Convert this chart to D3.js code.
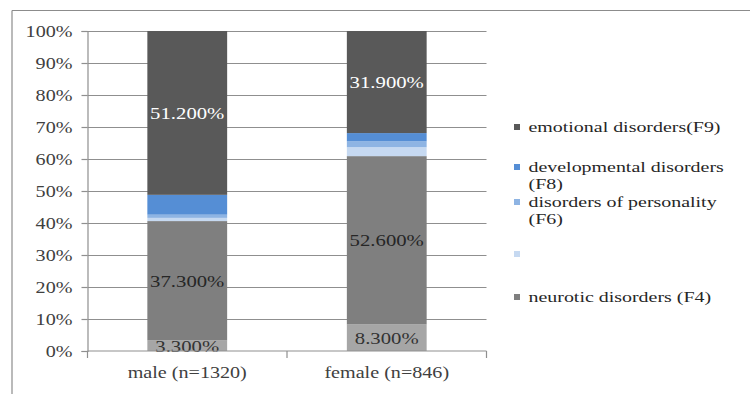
<!DOCTYPE html>
<html>
<head>
<meta charset="utf-8">
<script src="https://cdn.jsdelivr.net/npm/d3@7"></script>
<style>
  html, body { margin: 0; padding: 0; background: #fff; }
  svg { display: block; }
</style>
</head>
<body>
<svg id="chart" width="750" height="394"></svg>
<script>
// ---- data ----
const categories = ["male (n=1320)", "female (n=846)"];
const seriesKeys = ["s1", "F4", "s3", "F6", "F8", "F9"];           // bottom -> top
const seriesBottom = [3.3, 8.3];
const seriesF4 = [37.3, 52.6];
const seriesLight = [1.0, 2.8];
const seriesF6 = [1.0, 1.8];
const seriesF8 = [6.2, 2.6];
const seriesF9 = [51.2, 31.9];
const labelledSeries = ["s1", "F4", "F9"];
const yTicks = [0, 10, 20, 30, 40, 50, 60, 70, 80, 90, 100];
const legendKeys = ["F9", "F8", "F6", "s3", "F4"];
const legendLabels = ["emotional disorders(F9)", "developmental disorders\n(F8)", "disorders of personality\n(F6)", "", "neurotic disorders (F4)"];

// ---- styles ----
const FONT = "'Liberation Serif', Tinos, 'Times New Roman', Times, 'DejaVu Serif', serif";
const colors = { s1: "#a6a6a6", F4: "#7f7f7f", s3: "#c6d9f1", F6: "#8eb4e3", F8: "#558ed5", F9: "#595959" };
const labelColors = { s1: "#333333", F4: "#262626", F9: "#ffffff" };
const SX = 1.22; // horizontal stretch of text as seen in the reference

const valuesByKey = { s1: seriesBottom, F4: seriesF4, s3: seriesLight, F6: seriesF6, F8: seriesF8, F9: seriesF9 };
const rows = categories.map((c, i) => {
  const r = { cat: c };
  seriesKeys.forEach(k => r[k] = valuesByKey[k][i]);
  return r;
});

const svg = d3.select("#chart").attr("font-family", FONT);

// outer border (cropped chart frame)
svg.append("line").attr("x1", 12).attr("x2", 750).attr("y1", 10.5).attr("y2", 10.5)
  .attr("stroke", "#8c8c8c").attr("stroke-width", 1.2);
svg.append("line").attr("x1", 12).attr("x2", 12).attr("y1", 10.5).attr("y2", 394)
  .attr("stroke", "#8c8c8c").attr("stroke-width", 1.2);

const plot = { left: 87.5, right: 486.5, top: 31, bottom: 351 };

const x = d3.scaleBand().domain(categories).range([plot.left, plot.right])
  .paddingInner(0.6).paddingOuter(0.3);
const y = d3.scaleLinear().domain([0, 100]).range([plot.bottom, plot.top]);

function sText(sel, px, py, str, size, anchor, color, sx) {
  return sel.append("text")
    .attr("transform", `translate(${px},${py}) scale(${sx || SX},1)`)
    .attr("text-anchor", anchor)
    .style("font-family", FONT)
    .attr("font-size", size)
    .attr("fill", color)
    .text(str);
}

// gridlines
svg.append("g").selectAll("line").data(yTicks.filter(t => t > 0)).join("line")
  .attr("x1", plot.left).attr("x2", plot.right)
  .attr("y1", d => Math.round(y(d)) + 0.5).attr("y2", d => Math.round(y(d)) + 0.5)
  .attr("stroke", "#8f8f8f").attr("stroke-width", 1);

// stacked bars
const stack = d3.stack().keys(seriesKeys)(rows);
const barG = svg.append("g");
stack.forEach(layer => {
  barG.append("g").attr("fill", colors[layer.key]).selectAll("rect").data(layer).join("rect")
    .attr("x", d => x(d.data.cat))
    .attr("width", x.bandwidth())
    .attr("y", d => y(d[1]))
    .attr("height", d => y(d[0]) - y(d[1]));
});

// data labels
stack.filter(l => labelledSeries.includes(l.key)).forEach(layer => {
  layer.forEach(d => {
    const v = d[1] - d[0];
    sText(svg, x(d.data.cat) + x.bandwidth() / 2, (y(d[0]) + y(d[1])) / 2 + 6,
      v.toFixed(3) + "%", 17, "middle", labelColors[layer.key]);
  });
});

// y axis
const yAxis = svg.append("g").attr("transform", `translate(${plot.left},0)`)
  .call(d3.axisLeft(y).tickValues(yTicks).tickSize(6).tickFormat(d => d + "%"));
yAxis.attr("font-family", FONT);
yAxis.select(".domain").attr("stroke", "#8f8f8f").attr("stroke-width", 1.2);
yAxis.selectAll(".tick line").attr("stroke", "#8f8f8f").attr("stroke-width", 1.2);
yAxis.selectAll(".tick text").remove();
yAxis.selectAll(".tick").each(function(d) {
  sText(d3.select(this), -15, 5.5, d + "%", 16.5, "end", "#404040");
});

// x axis
const xAxisG = svg.append("g");
xAxisG.append("line").attr("x1", plot.left).attr("x2", plot.right)
  .attr("y1", plot.bottom).attr("y2", plot.bottom)
  .attr("stroke", "#8f8f8f").attr("stroke-width", 1.2);
const boundaries = [x.range()[0], ...categories.slice(1).map(c => x(c) - x.step() * x.paddingInner() / 2), x.range()[1]];
xAxisG.selectAll(".xt").data(boundaries).join("line")
  .attr("x1", d => d).attr("x2", d => d)
  .attr("y1", plot.bottom).attr("y2", plot.bottom + 7)
  .attr("stroke", "#8f8f8f").attr("stroke-width", 1.2);
categories.forEach(c => {
  sText(xAxisG, x(c) + x.bandwidth() / 2, 377.5, c, 16.5, "middle", "#404040");
});

// legend (wrapped labels as one text element with tspans)
const legendTop = [127, 167, 202, 254, 297];
const legendG = svg.append("g");
legendKeys.forEach((k, i) => {
  const cy = legendTop[i];
  legendG.append("rect").attr("x", 514).attr("y", cy - 3).attr("width", 6).attr("height", 6)
    .attr("fill", colors[k]);
  const lines = legendLabels[i].split("\n").filter(s => s);
  if (!lines.length) return;
  const t = sText(legendG, 528.5, cy + 5, "", 15, "start", "#262626", 1.33);
  lines.forEach((line, j) => {
    t.append("tspan").attr("x", 0).attr("dy", j === 0 ? 0 : 16.7).text(line);
  });
});
</script>
</body>
</html>
